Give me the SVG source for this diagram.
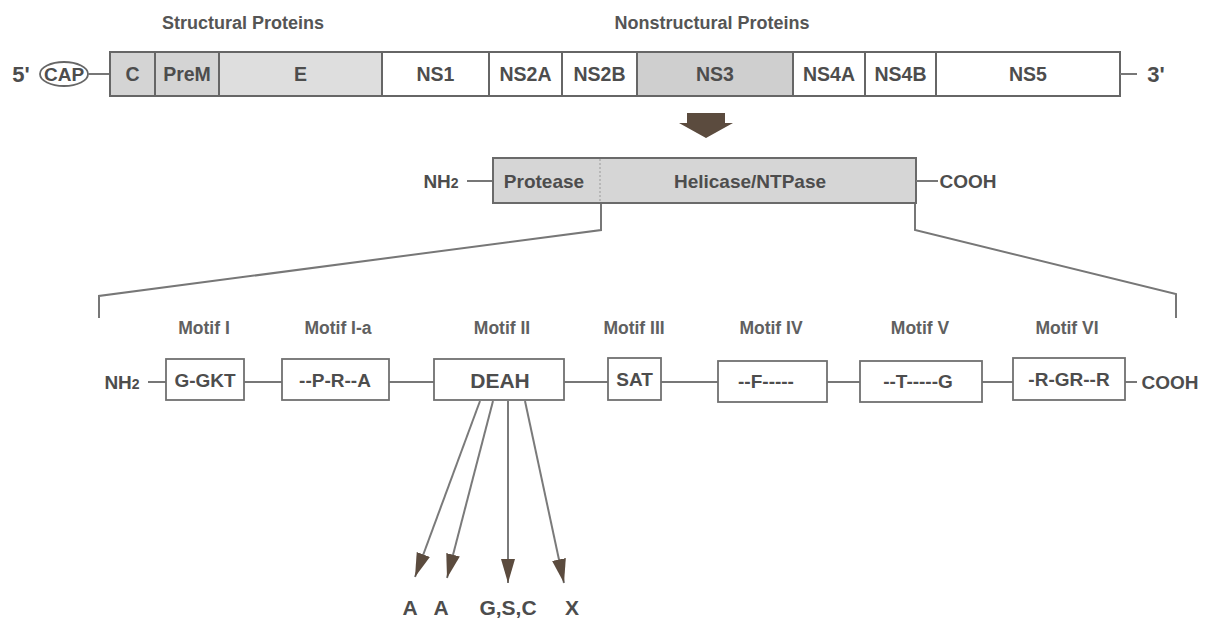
<svg xmlns="http://www.w3.org/2000/svg" width="1212" height="626" viewBox="0 0 1212 626">
<style>
text{font-family:"Liberation Sans",Arial,sans-serif;font-weight:bold;fill:#4d4d4d;text-anchor:middle}
.title{font-size:18px;fill:#555}
.seg{stroke:#666;stroke-width:2}
.lbl{font-size:19.5px}
.plbl{font-size:19px}
.box{fill:#fff;stroke:#707070;stroke-width:1.8}
.mtxt{font-size:19px}
.mlab{font-size:17.5px;fill:#606060}
.ln{stroke:#777;stroke-width:2;fill:none}
.end{font-size:19px}
.sub{font-size:21px}
.arr{stroke:#7a7a7a;stroke-width:2;fill:none;marker-end:url(#ah)}
</style>
<defs>
<marker id="ah" markerUnits="userSpaceOnUse" markerWidth="28" markerHeight="16" refX="24" refY="7" orient="auto">
<path d="M0,0 L24,7 L0,14 Z" fill="#5b4b3e"/>
</marker>
</defs>
<rect width="1212" height="626" fill="#fff"/>

<text class="title" x="243" y="29">Structural Proteins</text>
<text class="title" x="712" y="29">Nonstructural Proteins</text>

<g id="genome">
<text x="21" y="82" style="font-size:22px">5'</text>
<ellipse cx="64" cy="74" rx="24" ry="12" fill="#fff" stroke="#666" stroke-width="1.8"/>
<text x="64" y="81" style="font-size:19px">CAP</text>
<line class="ln" x1="88" y1="74" x2="110" y2="74"/>
<rect class="seg" x="110" y="52" width="45" height="44" fill="#d4d4d4"/>
<rect class="seg" x="155" y="52" width="64" height="44" fill="#d4d4d4"/>
<rect class="seg" x="219" y="52" width="163" height="44" fill="#dedede"/>
<rect class="seg" x="382" y="52" width="107" height="44" fill="#fff"/>
<rect class="seg" x="489" y="52" width="73" height="44" fill="#fff"/>
<rect class="seg" x="562" y="52" width="75" height="44" fill="#fff"/>
<rect class="seg" x="637" y="52" width="156" height="44" fill="#cfcfcf"/>
<rect class="seg" x="793" y="52" width="72" height="44" fill="#fff"/>
<rect class="seg" x="865" y="52" width="71" height="44" fill="#fff"/>
<rect class="seg" x="936" y="52" width="184" height="44" fill="#fff"/>
<text class="lbl" x="132.5" y="81">C</text>
<text class="lbl" x="187" y="81">PreM</text>
<text class="lbl" x="300.5" y="81">E</text>
<text class="lbl" x="435.5" y="81">NS1</text>
<text class="lbl" x="525.5" y="81">NS2A</text>
<text class="lbl" x="599.5" y="81">NS2B</text>
<text class="lbl" x="715" y="81">NS3</text>
<text class="lbl" x="829" y="81">NS4A</text>
<text class="lbl" x="900.5" y="81">NS4B</text>
<text class="lbl" x="1028" y="81">NS5</text>
<line class="ln" x1="1120" y1="74" x2="1137" y2="74"/>
<text x="1156" y="82" style="font-size:22px">3'</text>
</g>

<g id="big-arrow">
<polygon points="687,113 725,113 725,123 733,123 706,138 679,123 687,123" fill="#5b4b3e"/>
</g>

<g id="ns3-protein">
<text class="end" x="441" y="188">NH<tspan style="font-size:14px">2</tspan></text>
<line class="ln" x1="467" y1="181" x2="493" y2="181"/>
<rect x="493" y="158" width="423" height="45" fill="#d6d6d6" stroke="#6a6a6a" stroke-width="2"/>
<line x1="600" y1="159" x2="600" y2="202" stroke="#9a9a9a" stroke-width="1" stroke-dasharray="2,2"/>
<text class="plbl" x="544" y="188">Protease</text>
<text class="plbl" x="750" y="188">Helicase/NTPase</text>
<line class="ln" x1="916" y1="181" x2="938" y2="181"/>
<text class="end" x="968" y="188">COOH</text>
</g>

<g id="connectors">
<polyline class="ln" points="601,204 601,230 99,296 99,318"/>
<polyline class="ln" points="915,204 915,230 1176,294 1176,318"/>
<line class="ln" x1="148" y1="382" x2="166" y2="382"/>
<line class="ln" x1="244" y1="382" x2="282" y2="382"/>
<line class="ln" x1="389" y1="382" x2="434" y2="382"/>
<line class="ln" x1="564" y1="382" x2="608" y2="382"/>
<line class="ln" x1="661" y1="382" x2="718" y2="382"/>
<line class="ln" x1="827" y1="382" x2="860" y2="382"/>
<line class="ln" x1="982" y1="382" x2="1013" y2="382"/>
<line class="ln" x1="1125" y1="382" x2="1137" y2="382"/>
<line class="arr" x1="480" y1="401" x2="415" y2="577"/>
<line class="arr" x1="493" y1="401" x2="447" y2="578"/>
<line class="arr" x1="508" y1="401" x2="508" y2="583"/>
<line class="arr" x1="525" y1="401" x2="564" y2="583"/>
</g>

<text class="end" x="122" y="389">NH<tspan style="font-size:14px">2</tspan></text>
<text class="end" x="1170" y="389">COOH</text>

<g id="motif1">
<text class="mlab" x="204" y="334">Motif I</text>
<rect class="box" x="166" y="359" width="78" height="41"/>
<text class="mtxt" x="205" y="387">G-GKT</text>
</g>
<g id="motif1a">
<text class="mlab" x="338" y="334">Motif I-a</text>
<rect class="box" x="282" y="359" width="107" height="41"/>
<text class="mtxt" x="335" y="387">--P-R--A</text>
</g>
<g id="motif2">
<text class="mlab" x="502" y="334">Motif II</text>
<rect class="box" x="434" y="359" width="130" height="41"/>
<text x="500" y="388" style="font-size:21px">DEAH</text>
</g>
<g id="motif3">
<text class="mlab" x="634" y="334">Motif III</text>
<rect class="box" x="608" y="358" width="53" height="42"/>
<text class="mtxt" x="634.5" y="386">SAT</text>
</g>
<g id="motif4">
<text class="mlab" x="771" y="334">Motif IV</text>
<rect class="box" x="718" y="361" width="109" height="41"/>
<text class="mtxt" x="766" y="388">--F-----</text>
</g>
<g id="motif5">
<text class="mlab" x="920" y="334">Motif V</text>
<rect class="box" x="860" y="361" width="122" height="41"/>
<text class="mtxt" x="918" y="388">--T-----G</text>
</g>
<g id="motif6">
<text class="mlab" x="1067" y="334">Motif VI</text>
<rect class="box" x="1013" y="358" width="112" height="42"/>
<text class="mtxt" x="1069" y="386">-R-GR--R</text>
</g>

<g id="substitutions">
<text class="sub" x="410" y="615">A</text>
<text class="sub" x="441" y="615">A</text>
<text class="sub" x="508" y="615">G,S,C</text>
<text class="sub" x="572" y="615">X</text>
</g>
</svg>
